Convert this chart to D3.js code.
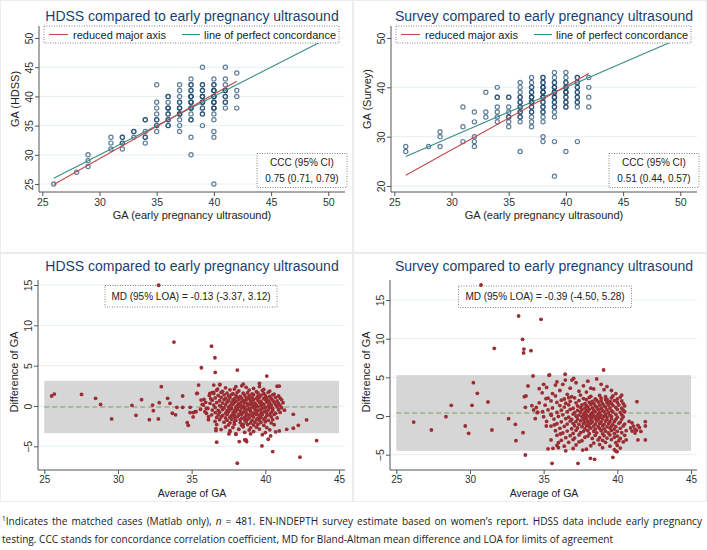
<!DOCTYPE html>
<html>
<head>
<meta charset="utf-8">
<script src="https://cdn.jsdelivr.net/npm/d3@7"></script>
<style>
	body { margin: 0; background: #fff; }
	svg text { font-family: "Liberation Sans", Arial, sans-serif; }
</style>
</head>
<body>
<div id="chart"></div>
<script>

// ---- data ----
const scatterTitles = ["HDSS compared to early pregnancy ultrasound", "Survey compared to early pregnancy ultrasound"];
const scatterYLabels = ["GA (HDSS)", "GA (Survey)"];
const scatterXLabel = "GA (early pregnancy ultrasound)";
const legendLabels = ["reduced major axis", "line of perfect concordance"];
const cccLabels = ["0.75 (0.71, 0.79)", "0.51 (0.44, 0.57)"];
const mdLabels = ["MD (95% LOA) = -0.13 (-3.37, 3.12)", "MD (95% LOA) = -0.39 (-4.50, 5.28)"];

const scatterXTicks = [25, 30, 35, 40, 45, 50];
const hdssYTicks = [25, 30, 35, 40, 45, 50];
const surveyYTicks = [20, 30, 40, 50];
const baXTicks = [25, 30, 35, 40, 45];
const baYTicks = [-5, 0, 5, 10, 15];

// [ultrasound GA, other GA, approx. number of overlapping cases]
const hdssPoints = [
	[26,25,1],[28,27,1],[29,28,1],[29,29,1],[29,30,1],
	[31,31,1],[31,32,1],[31,33,1],
	[32,31,1],[32,32,2],[32,33,2],
	[33,33,1],[33,34,2],
	[34,32,1],[34,33,2],[34,34,1],[34,36,2],
	[35,34,1],[35,35,2],[35,36,2],[35,37,1],[35,38,1],[35,39,1],[35,42,1],
	[36,35,2],[36,36,2],[36,37,2],[36,38,3],[36,39,1],[36,40,2],
	[37,34,1],[37,35,1],[37,36,1],[37,37,3],[37,38,3],[37,39,2],[37,40,1],[37,41,1],[37,42,1],
	[38,30,1],[38,33,1],[38,36,2],[38,37,1],[38,38,3],[38,39,3],[38,40,3],[38,41,2],[38,42,2],[38,43,1],
	[39,35,1],[39,37,2],[39,38,2],[39,39,3],[39,40,3],[39,41,2],[39,42,2],[39,45,1],
	[40,25,1],[40,33,1],[40,34,1],[40,36,1],[40,37,1],[40,38,3],[40,39,3],[40,40,3],[40,41,3],[40,42,2],[40,43,1],
	[41,38,1],[41,39,2],[41,40,2],[41,41,3],[41,42,1],[41,43,1],[41,45,1],
	[42,38,1],[42,40,1],[42,41,1],[42,44,1]
];

const surveyPoints = [
	[26,27,1],[26,28,1],[28,28,1],[29,28,1],[29,30,1],[29,31,1],
	[31,29,1],[31,32,1],[31,36,1],
	[32,28,1],[32,29,1],[32,30,1],[32,33,1],[32,35,1],
	[33,34,1],[33,35,1],[33,39,1],
	[34,33,1],[34,34,1],[34,35,1],[34,36,1],[34,38,2],[34,40,1],
	[35,32,1],[35,33,1],[35,34,2],[35,35,1],[35,36,1],[35,38,2],
	[36,27,1],[36,33,1],[36,34,2],[36,35,2],[36,36,2],[36,37,2],[36,38,2],[36,39,1],[36,40,1],[36,41,1],
	[37,32,1],[37,33,1],[37,34,1],[37,35,2],[37,36,2],[37,37,3],[37,38,3],[37,39,2],[37,40,2],[37,41,1],[37,42,1],
	[38,29,1],[38,30,1],[38,33,1],[38,34,1],[38,35,2],[38,36,2],[38,37,2],[38,38,3],[38,39,3],[38,40,3],[38,41,2],[38,42,2],
	[39,22,1],[39,29,1],[39,34,1],[39,35,1],[39,36,2],[39,37,2],[39,38,3],[39,39,3],[39,40,3],[39,41,2],[39,42,1],[39,43,1],
	[40,27,1],[40,36,2],[40,37,2],[40,38,2],[40,39,3],[40,40,3],[40,41,2],[40,42,1],[40,43,1],
	[41,29,1],[41,36,1],[41,37,2],[41,38,2],[41,39,2],[41,40,2],[41,41,2],[41,42,2],
	[42,36,1],[42,38,1],[42,40,1],[42,42,1]
];

const rmaHdss = [[26, 24.9], [42, 42.6]];
const rmaSurvey = [[26, 22.2], [42, 42.8]];
const concordance = [[26, 26], [50, 50]];

const hdssLoa = [-3.37, 3.12];
const hdssMeanLine = -0.13;
const surveyLoa = [-4.50, 5.28];
const surveyMeanLine = 0.39;

// Bland-Altman: [average of GA, difference of GA]
const hdssBA = [
	[25.5,1.24],[25.68,1.48],[27.53,1.44],[28.48,0.95],[28.82,0.2],[29.57,-1.6],[30.95,0.08],[31.22,-1.15],
	[31.6,0.78],[32.13,-1.69],[32.35,0.12],[32.4,-0.58],[32.74,-1.6],[32.76,14.97],[32.8,0.41],[32.94,2.39],
	[33.37,0.95],[33.53,0.33],[33.69,-0.9],[33.8,7.92],[33.91,-1.1],[34.0,-0.16],[34.39,1.24],[34.39,-0.16],
	[34.7,-2.06],[34.77,-2.4],[34.9,-0.16],[35.1,-1.36],[35.25,-0.7],[35.38,1.57],[35.47,2.6],[35.66,4.74],
	[35.72,0.2],[35.84,0.82],[35.9,-0.7],[36.0,-0.29],[36.15,-1.32],[36.24,1.57],[36.35,7.42],[36.4,1.65],
	[36.58,5.98],[36.6,4.16],[36.65,-3.05],[36.7,-4.49],[36.76,2.1],[36.92,2.68],[38.1,4.45],[38.19,-1.1],
	[38.0,-3.46],[38.1,-7.09],[38.23,-4.41],[38.5,-2.27],[38.69,-4.2],[38.73,-4.41],[39.6,2.8],[39.77,-4.95],
	[40.1,3.71],[40.2,-4.12],[40.36,-3.71],[40.5,-5.65],[40.95,2.47],[40.95,-3.09],[41.45,-2.89],[41.9,-1.03],
	[41.9,-2.76],[42.24,-2.39],[42.35,-6.35],[42.8,-1.73],[43.48,-4.29],[37.6,-3.05],[37.53,-3.46],
	[36.5,2.6],[36.47,1.7],[35.35,1.55],[35.64,0.74],[34.89,-0.82],[35.1,-0.82],[35.3,-0.7],[35.8,0.12],
	[36.0,-0.9],[36.36,-1.1],[36.25,0.33],[36.14,-1.7],[36.59,-1.9],[36.65,-2.8],[36.1,-0.3],[35.95,0.45],
	[36.3,0.9],[35.6,-0.4],[36.2,1.3],[38.5,2.7],[38.6,-4.2],
	[36.9,2.62],[38.4,2.5],[39.6,2.41],[38.0,2.4],
	[37.3,2.25],[37.9,2.1],[38.7,2.32],[39.2,2.18],[39.9,2.05],[40.8,2.45],
	[36.7,1.95],[37.1,1.82],[37.6,2.0],[38.2,1.88],[38.9,1.97],[39.4,1.78],[39.8,1.92],[40.3,1.85],
	[36.5,1.55],[37.0,1.68],[37.4,1.6],[37.8,1.52],[38.1,1.7],[38.5,1.58],[38.8,1.65],[39.1,1.5],[39.5,1.62],[39.9,1.56],[40.2,1.7],[40.6,1.48],
	[36.8,1.3],[37.2,1.38],[37.5,1.25],[37.7,1.42],[38.0,1.32],[38.3,1.2],[38.6,1.36],[38.9,1.28],[39.2,1.4],[39.5,1.22],[39.7,1.34],[40.0,1.3],[40.3,1.18],[40.5,1.38],[40.9,1.25],
	[36.6,1.0],[37.0,1.08],[37.3,0.95],[37.6,1.05],[37.9,0.92],[38.1,1.1],[38.4,0.98],[38.7,1.04],[38.9,0.9],[39.1,1.06],[39.4,0.96],[39.6,1.1],[39.9,0.94],[40.1,1.02],[40.4,0.9],[40.7,1.08],[41.0,0.98],
	[36.4,0.72],[36.9,0.65],[37.2,0.78],[37.5,0.68],[37.8,0.74],[38.0,0.6],[38.2,0.8],[38.5,0.66],[38.7,0.75],[39.0,0.62],[39.2,0.78],[39.5,0.7],[39.7,0.6],[40.0,0.76],[40.2,0.66],[40.5,0.72],[40.8,0.62],[41.1,0.8],
	[36.7,0.42],[37.1,0.36],[37.4,0.48],[37.7,0.38],[37.9,0.45],[38.2,0.32],[38.4,0.5],[38.6,0.4],[38.8,0.3],[39.1,0.46],[39.3,0.35],[39.6,0.44],[39.8,0.3],[40.1,0.48],[40.3,0.38],[40.6,0.44],[40.9,0.32],[41.2,0.4],
	[36.5,0.12],[36.9,0.05],[37.3,0.15],[37.6,0.02],[37.8,0.18],[38.1,0.08],[38.3,0.14],[38.5,0.0],[38.8,0.1],[39.0,0.2],[39.2,0.04],[39.4,0.12],[39.7,0.06],[39.9,0.16],[40.2,0.0],[40.4,0.1],[40.7,0.14],[41.0,0.05],
	[36.6,-0.2],[37.0,-0.12],[37.2,-0.25],[37.5,-0.15],[37.7,-0.28],[38.0,-0.18],[38.2,-0.1],[38.4,-0.24],[38.6,-0.16],[38.9,-0.3],[39.1,-0.14],[39.3,-0.22],[39.5,-0.1],[39.8,-0.26],[40.0,-0.16],[40.3,-0.2],[40.5,-0.3],[40.8,-0.12],[41.1,-0.22],
	[36.4,-0.5],[36.8,-0.56],[37.1,-0.44],[37.4,-0.58],[37.6,-0.48],[37.9,-0.55],[38.1,-0.42],[38.3,-0.6],[38.6,-0.5],[38.8,-0.45],[39.0,-0.58],[39.3,-0.46],[39.5,-0.54],[39.7,-0.42],[40.0,-0.6],[40.2,-0.48],[40.5,-0.55],[40.9,-0.45],[41.3,-0.52],
	[36.6,-0.82],[36.9,-0.76],[37.3,-0.88],[37.5,-0.75],[37.8,-0.85],[38.0,-0.72],[38.3,-0.9],[38.5,-0.78],[38.7,-0.84],[39.0,-0.74],[39.2,-0.9],[39.4,-0.8],[39.7,-0.86],[39.9,-0.72],[40.1,-0.84],[40.4,-0.78],[40.7,-0.9],[41.0,-0.8],
	[36.8,-1.1],[37.1,-1.16],[37.4,-1.05],[37.7,-1.2],[37.9,-1.08],[38.2,-1.14],[38.4,-1.02],[38.7,-1.18],[38.9,-1.1],[39.1,-1.22],[39.4,-1.04],[39.6,-1.14],[39.8,-1.06],[40.1,-1.2],[40.3,-1.1],[40.6,-1.04],
	[36.7,-1.42],[37.0,-1.36],[37.3,-1.48],[37.6,-1.38],[37.9,-1.45],[38.1,-1.34],[38.4,-1.5],[38.6,-1.4],[38.9,-1.46],[39.2,-1.35],[39.5,-1.5],[39.7,-1.4],[40.0,-1.44],[40.4,-1.36],[40.8,-1.48],
	[36.9,-1.7],[37.4,-1.76],[37.7,-1.65],[38.0,-1.78],[38.3,-1.68],[38.6,-1.74],[38.8,-1.64],[39.1,-1.8],[39.4,-1.7],[39.6,-1.76],[39.9,-1.66],[40.2,-1.78],[40.5,-1.7],
	[37.2,-2.0],[37.6,-2.08],[37.9,-1.96],[38.3,-2.05],[38.7,-1.98],[39.0,-2.1],[39.3,-2.0],[39.7,-2.06],[40.0,-1.95],[40.4,-2.1],
	[36.7,-2.3],[37.5,-2.35],[37.9,-2.25],[38.4,-2.4],[38.8,-2.3],[39.2,-2.36],[39.5,-2.26],[39.9,-2.4],[40.6,-2.32],
	[37.3,-2.6],[37.8,-2.66],[38.5,-2.58],[39.0,-2.7],[39.4,-2.62],[40.1,-2.68],
	[37.0,-2.92],[38.2,-2.88],[38.9,-2.98],[39.6,-2.86],[40.3,-2.95],
	[37.6,-3.2],[38.6,-3.26],[39.2,-3.15],[40.0,-3.3],[40.7,-3.2],
	[38.0,-3.5],[39.0,-3.45],[39.8,-3.55]
];

const surveyBA = [
	[26.18,-0.78],[27.38,-1.81],[28.37,-0.09],[28.73,1.38],[29.68,-1.29],[29.91,-2.24],[30.14,1.38],[30.23,4.31],
	[30.5,2.93],[30.75,16.94],[31.22,1.81],[31.49,-1.81],[31.65,8.75],[32.62,-0.34],[33.08,-1.08],[33.12,-3.19],
	[33.3,12.93],[33.57,9.91],[33.6,-2.16],[33.64,8.15],[33.66,8.66],[33.76,-5.04],[33.69,2.5],[33.76,1.12],
	[33.8,2.59],[33.94,3.88],[34.14,8.45],[34.2,1.34],[34.28,5.17],[34.32,0.78],[34.43,-0.34],[34.57,0.43],
	[34.7,3.53],[34.82,12.5],[34.93,0.56],[35.16,2.24],[35.18,-1.29],[35.36,5.26],[35.52,0.09],[35.57,-6.12],
	[35.63,-4.18],[35.72,-1.16],[35.8,4.0],[36.13,-2.33],[36.47,4.65],[36.7,2.37],[36.92,4.65],[37.04,4.87],
	[37.33,-6.12],[37.65,-4.4],[38.17,-5.47],[38.46,-5.6],[39.07,5.95],[39.7,-5.34],[39.98,-4.61],[41.33,1.85],
	[41.4,-3.1],[41.9,-0.73],[41.9,-1.29],[41.9,-3.1],
	[35.4,5.3],[36.46,5.4],[35.9,4.4],[36.3,4.1],[36.8,3.6],[37.2,4.3],[37.7,3.9],[38.0,4.5],[38.4,3.5],
	[38.9,4.1],[39.3,3.8],[39.6,3.3],[39.9,2.9],[37.4,3.2],[36.1,3.3],[35.2,3.7],[35.6,2.9],[34.9,3.0],
	[38.6,4.8],[37.9,3.1],[39.1,3.4],[40.3,2.7],[36.6,2.8],[35.0,4.1],[38.2,3.6],
	[35.8,2.6],[36.9,2.5],[37.5,2.7],[38.2,2.55],[38.8,2.65],[39.2,2.5],[39.7,2.6],[40.2,2.45],
	[35.3,2.3],[36.4,2.2],[37.1,2.35],[37.7,2.25],[38.1,2.4],[38.5,2.2],[38.9,2.3],[39.3,2.15],[39.6,2.35],[40.0,2.2],
	[35.5,1.95],[36.2,2.05],[36.8,1.9],[37.4,2.0],[37.9,2.1],[38.3,1.9],[38.6,2.05],[38.9,1.95],[39.2,2.1],[39.5,1.9],[39.8,2.0],[40.3,1.95],
	[34.7,1.7],[35.9,1.75],[36.5,1.65],[37.2,1.7],[37.8,1.6],[38.1,1.75],[38.4,1.65],[38.7,1.8],[39.0,1.6],[39.3,1.72],[39.6,1.62],[40.0,1.75],[40.4,1.6],
	[35.1,1.4],[36.1,1.35],[36.7,1.45],[37.3,1.3],[37.6,1.42],[37.9,1.35],[38.2,1.48],[38.5,1.32],[38.8,1.4],[39.1,1.3],[39.4,1.45],[39.7,1.35],[40.1,1.42],[40.5,1.3],
	[34.5,1.1],[35.6,1.05],[36.4,1.15],[37.0,1.0],[37.5,1.12],[37.8,1.02],[38.0,1.16],[38.3,1.05],[38.6,1.12],[38.9,1.0],[39.2,1.15],[39.5,1.05],[39.9,1.1],[40.3,1.0],
	[35.3,0.8],[36.2,0.75],[36.8,0.85],[37.3,0.72],[37.6,0.82],[37.9,0.7],[38.1,0.86],[38.4,0.76],[38.7,0.84],[39.0,0.72],[39.3,0.8],[39.6,0.7],[40.0,0.85],[40.4,0.76],
	[34.6,0.5],[35.9,0.45],[36.6,0.55],[37.1,0.42],[37.5,0.52],[37.8,0.45],[38.0,0.58],[38.3,0.44],[38.5,0.55],[38.8,0.46],[39.1,0.56],[39.4,0.42],[39.7,0.52],[40.2,0.45],[40.5,0.55],
	[35.5,0.2],[36.3,0.15],[37.0,0.25],[37.4,0.12],[37.7,0.22],[37.9,0.1],[38.2,0.2],[38.4,0.08],[38.7,0.24],[38.9,0.12],[39.2,0.2],[39.5,0.1],[39.9,0.22],[40.3,0.14],
	[35.0,-0.1],[36.0,-0.05],[36.7,-0.15],[37.2,-0.02],[37.6,-0.12],[37.8,-0.2],[38.1,-0.05],[38.3,-0.16],[38.6,-0.08],[38.8,-0.18],[39.1,-0.04],[39.3,-0.14],[39.6,-0.06],[40.0,-0.16],[40.4,-0.1],
	[35.7,-0.4],[36.5,-0.35],[36.9,-0.45],[37.3,-0.38],[37.7,-0.48],[37.9,-0.34],[38.2,-0.44],[38.5,-0.36],[38.7,-0.46],[39.0,-0.38],[39.3,-0.48],[39.6,-0.35],[39.9,-0.44],[40.3,-0.4],
	[35.2,-0.7],[36.2,-0.75],[36.8,-0.65],[37.2,-0.72],[37.5,-0.62],[37.8,-0.78],[38.0,-0.68],[38.3,-0.74],[38.6,-0.64],[38.9,-0.76],[39.2,-0.66],[39.5,-0.74],[39.8,-0.7],[40.2,-0.78],[40.8,-0.7],
	[35.9,-1.0],[36.6,-1.05],[37.0,-0.95],[37.4,-1.08],[37.7,-0.98],[38.0,-1.1],[38.2,-0.94],[38.5,-1.05],[38.8,-0.96],[39.1,-1.08],[39.4,-1.0],[39.7,-1.1],[40.1,-0.95],[40.5,-1.05],[41.0,-0.9],
	[35.5,-1.3],[36.4,-1.35],[37.1,-1.25],[37.6,-1.38],[37.9,-1.28],[38.1,-1.4],[38.4,-1.3],[38.7,-1.36],[39.0,-1.26],[39.3,-1.4],[39.6,-1.3],[39.9,-1.38],[40.4,-1.28],[41.1,-1.3],[41.4,-1.2],
	[36.1,-1.6],[36.9,-1.65],[37.3,-1.55],[37.8,-1.68],[38.2,-1.58],[38.5,-1.7],[38.8,-1.6],[39.1,-1.66],[39.5,-1.56],[39.8,-1.68],[40.2,-1.6],[40.9,-1.55],[41.2,-1.7],[41.5,-1.5],
	[35.8,-1.9],[36.6,-1.95],[37.2,-1.85],[37.7,-1.98],[38.0,-1.88],[38.4,-2.0],[38.9,-1.9],[39.2,-1.96],[39.6,-1.86],[40.0,-1.98],[40.6,-1.9],[41.0,-1.95],[41.3,-1.85],[41.6,-2.0],
	[36.3,-2.2],[37.0,-2.25],[37.5,-2.15],[38.1,-2.28],[38.6,-2.18],[39.0,-2.3],[39.4,-2.2],[39.8,-2.25],[40.3,-2.15],[41.2,-2.2],
	[35.9,-2.5],[36.8,-2.55],[37.4,-2.45],[38.0,-2.6],[38.5,-2.5],[39.1,-2.55],[39.5,-2.45],[40.0,-2.6],[40.5,-2.5],
	[36.5,-2.8],[37.1,-2.85],[37.8,-2.75],[38.3,-2.9],[38.8,-2.8],[39.3,-2.85],[39.8,-2.75],[40.2,-2.9],
	[35.5,-3.1],[36.2,-3.15],[37.0,-3.05],[37.6,-3.2],[38.7,-3.1],[39.0,-3.15],[39.6,-3.05],[40.1,-3.2],[40.6,-3.1],
	[36.0,-3.45],[36.7,-3.4],[37.4,-3.35],[38.4,-3.5],[39.2,-3.4],[39.9,-3.45],[40.4,-3.35],
	[35.9,-3.8],[36.4,-3.9],[37.2,-3.75],[38.2,-3.85],[38.8,-3.7],[39.5,-3.9],[40.0,-3.8],
	[35.3,-4.25],[36.0,-4.1],[37.0,-4.2],[37.9,-4.3],[39.0,-4.1],[39.8,-4.35],[40.2,-4.15],
	[36.5,-4.5],[39.9,-4.55]
];

const footnoteLines = [
	"testing. CCC stands for concordance correlation coefficient, MD for Bland-Altman mean difference and LOA for limits of agreement"
];

// ---- drawing ----
const navy = "#1a3f6e",
	pointBlue = "#1a476f",
	rmaRed = "#c24a4a",
	teal = "#3a8d86",
	cranberry = "#9b2d33",
	gridColor = "#e4eef2",
	axisColor = "#555";

const svg = d3.select("#chart").append("svg")
	.attr("width", 707)
	.attr("height", 550);

// panel frames
[[0, 0, 353, 253], [353, 0, 354, 253], [0, 253, 353, 249], [353, 253, 354, 249]].forEach(r => {
	svg.append("rect")
		.attr("x", r[0] + 0.5).attr("y", r[1] + 0.5)
		.attr("width", r[2] - 1).attr("height", r[3] - 1)
		.attr("fill", "#fff")
		.attr("stroke", "#ececec");
});

function dottedBox(g, x0, y0, x1, y1) {
	g.append("rect")
		.attr("x", x0).attr("y", y0)
		.attr("width", x1 - x0).attr("height", y1 - y0)
		.attr("fill", "#fff")
		.attr("stroke", "#666")
		.attr("stroke-width", 0.8)
		.attr("stroke-dasharray", "1,1.5");
}

function drawAxes(g, p, x, y, xTicks, yTicks) {
	const ax = g.append("g")
		.attr("transform", "translate(0," + p.bottom + ")")
		.call(d3.axisBottom(x).tickValues(xTicks).tickSize(4).tickPadding(p.tickPad));
	ax.select(".domain").remove();
	ax.selectAll("line").attr("stroke", axisColor);
	ax.selectAll("text").attr("font-size", p.tickSize).attr("fill", "#333");

	const ay = g.append("g")
		.attr("transform", "translate(" + p.left + ",0)")
		.call(d3.axisLeft(y).tickValues(yTicks).tickSize(4));
	ay.select(".domain").remove();
	ay.selectAll("line").attr("stroke", axisColor);
	ay.selectAll("text")
		.attr("transform", "rotate(-90)")
		.attr("x", 0).attr("y", -6).attr("dy", 0)
		.attr("text-anchor", "middle")
		.attr("font-size", 10.5).attr("fill", "#333");

	// axis lines over the full plot region
	g.append("line")
		.attr("x1", p.left).attr("x2", p.right)
		.attr("y1", p.bottom).attr("y2", p.bottom)
		.attr("stroke", axisColor);
	g.append("line")
		.attr("x1", p.left).attr("x2", p.left)
		.attr("y1", p.top).attr("y2", p.bottom)
		.attr("stroke", axisColor);
}

function drawTitle(g, p, title, yLabel, xLabel) {
	g.append("text")
		.attr("x", p.titleX).attr("y", p.titleY)
		.attr("text-anchor", "middle")
		.attr("font-size", 14).attr("fill", navy)
		.text(title);
	g.append("text")
		.attr("transform", "translate(" + (p.left - 20) + "," + p.yLabelY + ") rotate(-90)")
		.attr("text-anchor", "middle")
		.attr("font-size", 11).attr("fill", "#222")
		.text(yLabel);
	g.append("text")
		.attr("x", p.titleX).attr("y", p.xLabelY)
		.attr("text-anchor", "middle")
		.attr("font-size", p.xLabelSize).attr("fill", "#222")
		.text(xLabel);
}

function drawScatter(p) {
	const g = svg.append("g");
	const x = d3.scaleLinear().domain([25, 50]).range([p.left + 3.3, p.left + 289.3]);
	const y = d3.scaleLinear().domain(p.yDomain).range(p.yRange);

	g.selectAll(".grid").data(p.yTicks).enter().append("line")
		.attr("x1", p.left).attr("x2", p.right)
		.attr("y1", d => y(d)).attr("y2", d => y(d))
		.attr("stroke", gridColor);

	// overlapping cases drawn on top of each other
	const copies = [];
	p.points.forEach(d => { for (let i = 0; i < d[2]; i++) copies.push(d); });
	g.selectAll(".pt").data(copies).enter().append("circle")
		.attr("cx", d => x(d[0])).attr("cy", d => y(d[1]))
		.attr("r", 2.1)
		.attr("fill", "none")
		.attr("stroke", pointBlue)
		.attr("stroke-opacity", 0.7)
		.attr("stroke-width", 1.2);

	const line = d3.line().x(d => x(d[0])).y(d => y(d[1]));
	g.append("path").datum(concordance).attr("d", line)
		.attr("fill", "none").attr("stroke", teal).attr("stroke-width", 1.1);
	g.append("path").datum(p.rma).attr("d", line)
		.attr("fill", "none").attr("stroke", rmaRed).attr("stroke-width", 1.1);

	drawAxes(g, p, x, y, scatterXTicks, p.yTicks);
	drawTitle(g, p, p.title, p.yLabel, scatterXLabel);

	// legend
	const lx = p.left + 5;
	dottedBox(g, lx, 26, lx + 295, 43);
	g.append("line").attr("x1", lx + 5).attr("x2", lx + 24).attr("y1", 34.5).attr("y2", 34.5)
		.attr("stroke", rmaRed).attr("stroke-width", 1.1);
	g.append("text").attr("x", lx + 29).attr("y", 38.5).attr("font-size", 11).attr("fill", "#222")
		.text(legendLabels[0]);
	g.append("line").attr("x1", lx + 138).attr("x2", lx + 156).attr("y1", 34.5).attr("y2", 34.5)
		.attr("stroke", teal).attr("stroke-width", 1.1);
	g.append("text").attr("x", lx + 160).attr("y", 38.5).attr("font-size", 11).attr("fill", "#222")
		.text(legendLabels[1]);

	// CCC box
	const bx = p.left + 218;
	dottedBox(g, bx, 153.5, bx + 90, 187.5);
	g.append("text").attr("x", bx + 45).attr("y", 166).attr("text-anchor", "middle")
		.attr("font-size", 10).attr("fill", "#222").text("CCC (95% CI)");
	g.append("text").attr("x", bx + 45).attr("y", 182).attr("text-anchor", "middle")
		.attr("font-size", 10).attr("fill", "#222").text(p.ccc);
}

function drawBA(p) {
	const g = svg.append("g");
	const x = d3.scaleLinear().domain([25, 45]).range([p.left + 6.3, p.left + 301]);
	const y = d3.scaleLinear().domain([0, 15]).range(p.yRange);

	g.selectAll(".grid").data(baYTicks).enter().append("line")
		.attr("x1", p.left).attr("x2", p.right)
		.attr("y1", d => y(d)).attr("y2", d => y(d))
		.attr("stroke", gridColor);

	g.append("rect")
		.attr("x", x(25)).attr("width", x(45) - x(25))
		.attr("y", y(p.loa[1])).attr("height", y(p.loa[0]) - y(p.loa[1]))
		.attr("fill", "#d6d6d6");

	g.append("line")
		.attr("x1", x(25)).attr("x2", x(45))
		.attr("y1", y(p.meanLine)).attr("y2", y(p.meanLine))
		.attr("stroke", "#7d9c5c").attr("stroke-width", 1.1)
		.attr("stroke-dasharray", "5,3");

	dottedBox(g, p.mdBox[0], p.mdBox[1], p.mdBox[2], p.mdBox[3]);
	g.append("text")
		.attr("x", (p.mdBox[0] + p.mdBox[2]) / 2).attr("y", (p.mdBox[1] + p.mdBox[3]) / 2 + 3.6)
		.attr("text-anchor", "middle").attr("font-size", 10).attr("fill", "#222")
		.text(p.md);

	g.selectAll(".pt").data(p.points).enter().append("circle")
		.attr("cx", d => x(d[0])).attr("cy", d => y(d[1]))
		.attr("r", 1.9)
		.attr("fill", cranberry);

	drawAxes(g, p, x, y, baXTicks, baYTicks);
	drawTitle(g, p, p.title, "Difference of GA", "Average of GA");
}

drawScatter({
	left: 39, right: 345, top: 26, bottom: 192,
	yDomain: [25, 50], yRange: [184, 38], yTicks: hdssYTicks,
	points: hdssPoints, rma: rmaHdss,
	title: scatterTitles[0], yLabel: scatterYLabels[0], ccc: cccLabels[0],
	titleX: 192, titleY: 21, yLabelY: 99, xLabelY: 219, xLabelSize: 11,
	tickPad: 3, tickSize: 10.5
});

drawScatter({
	left: 391, right: 697, top: 26, bottom: 192,
	yDomain: [20, 50], yRange: [186, 38], yTicks: surveyYTicks,
	points: surveyPoints, rma: rmaSurvey,
	title: scatterTitles[1], yLabel: scatterYLabels[1], ccc: cccLabels[1],
	titleX: 544, titleY: 21, yLabelY: 99, xLabelY: 219, xLabelSize: 11,
	tickPad: 3, tickSize: 10.5
});

drawBA({
	left: 38, right: 345, top: 280, bottom: 470,
	yRange: [406, 285], loa: hdssLoa, meanLine: hdssMeanLine,
	points: hdssBA, md: mdLabels[0], mdBox: [105, 285.5, 277, 307],
	title: scatterTitles[0],
	titleX: 192, titleY: 271, yLabelY: 372, xLabelY: 497, xLabelSize: 10.5,
	tickPad: 1.5, tickSize: 10
});

drawBA({
	left: 390, right: 697, top: 280, bottom: 470,
	yRange: [416, 300], loa: surveyLoa, meanLine: surveyMeanLine,
	points: surveyBA, md: mdLabels[1], mdBox: [458.5, 286, 631.5, 307.5],
	title: scatterTitles[1],
	titleX: 544, titleY: 271, yLabelY: 372, xLabelY: 497, xLabelSize: 10.5,
	tickPad: 1.5, tickSize: 10
});

// footnote: justified first line, ragged last line
const fnFont = "'Open Sans', sans-serif";
const fn2 = svg.append("text")
	.attr("x", 2).attr("y", 543)
	.attr("font-size", 10).attr("fill", "#222")
	.style("font-family", fnFont)
	.text(footnoteLines[0]);
const fnSize = 10 * 612 / fn2.node().getComputedTextLength();
fn2.attr("font-size", fnSize);

const fn1 = svg.append("text")
	.attr("x", 2).attr("y", 525)
	.attr("font-size", fnSize).attr("fill", "#222")
	.style("font-family", fnFont);
fn1.append("tspan").attr("font-size", fnSize * 0.65).attr("dy", -4).text("1");
fn1.append("tspan").attr("dy", 4).text("Indicates the matched cases (Matlab only), ");
fn1.append("tspan").attr("font-style", "italic").text("n");
fn1.append("tspan").text(" = 481. EN-INDEPTH survey estimate based on women\u2019s report. HDSS data include early pregnancy");
const spaces = 20;
const extra = (700 - fn1.node().getComputedTextLength()) / spaces;
fn1.attr("word-spacing", Math.max(0, extra));

</script>
</body>
</html>
